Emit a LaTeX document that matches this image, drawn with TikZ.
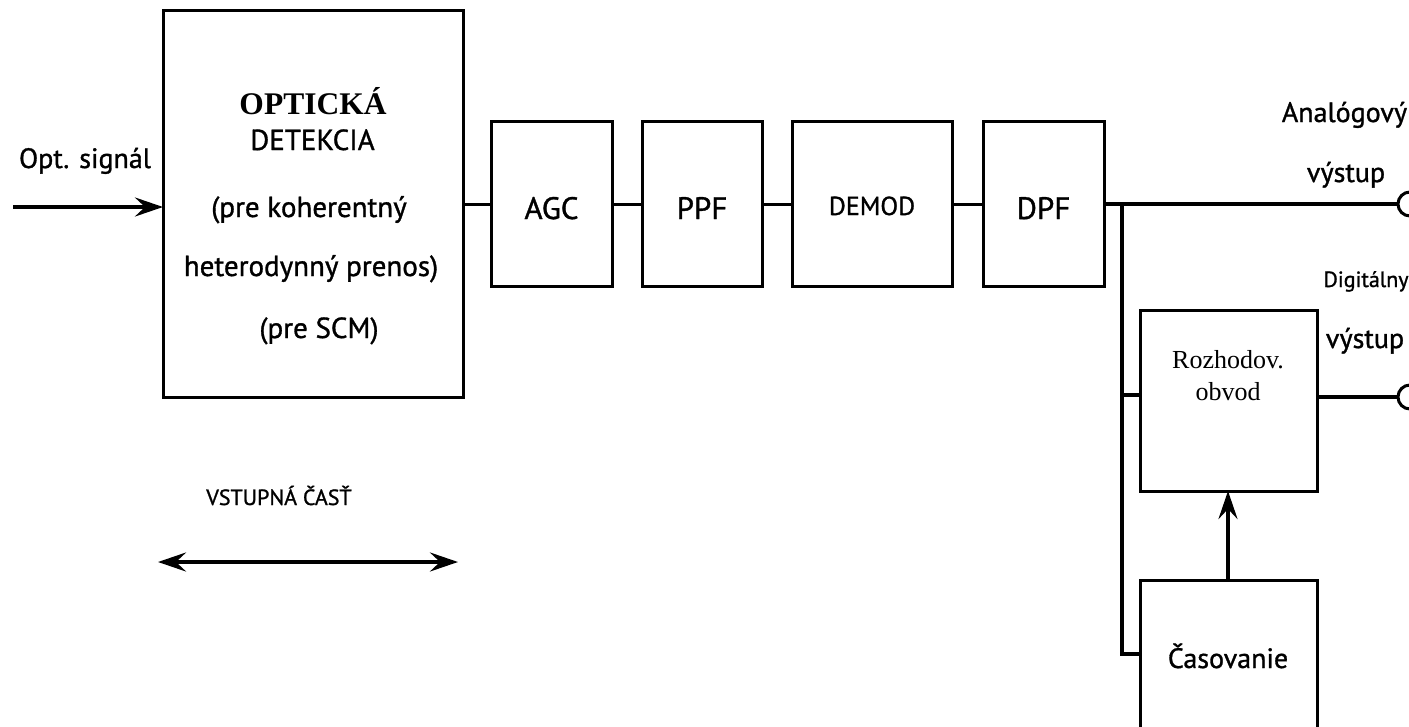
\documentclass[tikz,border=0pt]{standalone}
\usepackage{fontspec}
\setmainfont{PT Sans}[FakeBold=1.1]
\newfontfamily\seriffam{Liberation Serif}
\usetikzlibrary{arrows.meta}
\begin{document}
\begin{tikzpicture}[x=1pt,y=-1pt,
  blk/.style={draw, line width=3pt, inner sep=0pt, outer sep=0pt},
  txt/.style={inner sep=0pt, outer sep=0pt, anchor=base},
  fs/.style={font=\fontsize{#1}{#1}\selectfont},
  wire/.style={line width=3pt},
  awire/.style={line width=3.6pt},
  owire/.style={line width=4pt},
  tip/.style={-{Stealth[length=28pt,width=19pt,inset=10pt]}},
  port/.style={circle, draw, line width=3pt, minimum size=24pt, inner sep=0pt, outer sep=0pt},
]
\useasboundingbox (0,0) rectangle (1409,726);

% blocks
\node[blk, minimum width=300pt, minimum height=387pt] (big) at (313,203.5) {};
\node[blk, minimum width=121pt, minimum height=165pt] (agc) at (551.5,204) {};
\node[blk, minimum width=120pt, minimum height=165pt] (ppf) at (702,204) {};
\node[blk, minimum width=160pt, minimum height=165pt] (demod) at (872,204) {};
\node[blk, minimum width=121pt, minimum height=165pt] (dpf) at (1043.5,204) {};
\node[blk, minimum width=177pt, minimum height=181pt] (rozh) at (1228.5,400.5) {};

% block texts
\node[txt, font=\seriffam\bfseries\fontsize{31.5}{32}\selectfont] (t1) at (313,114) {OPTICKÁ};
\node[txt, fs=29] (t2) at (312.5,150) {DETEKCIA};
\node[txt, fs=29] (t3) at (309,217) {(pre koherentný};
\node[txt, fs=29] (t4) at (311,276) {heterodynný prenos)};
\node[txt, fs=29] (t5) at (319,338) {(pre SCM)};
\node[txt, fs=31] (tagc) at (551.5,219) {AGC};
\node[txt, fs=31] (tppf) at (702,219) {PPF};
\node[txt, fs=26] (tdemod) at (872,215) {DEMOD};
\node[txt, fs=31] (tdpf) at (1043.5,219) {DPF};
\node[txt, font=\seriffam\fontsize{26}{30}\selectfont] (trozh1) at (1228,368) {Rozhodov.};
\node[txt, font=\seriffam\fontsize{26}{30}\selectfont] (trozh2) at (1228,400) {obvod};
\node[txt, fs=28] (tcas) at (1228,668) {Časovanie};

% labels
\node[txt, fs=28] (lopt) at (85,168) {Opt. signál};
\node[txt, fs=28] (lan1) at (1344.5,122) {Analógový};
\node[txt, fs=28] (lan2) at (1346,182) {výstup};
\node[txt, fs=22] (ldi1) at (1366,287) {Digitálny};
\node[txt, fs=28] (ldi2) at (1365,348) {výstup};
\node[txt, fs=22] (lvst) at (279,505) {VSTUPNÁ ČASŤ};

% output ports
\node[port] (aout) at (1410,204) {};
\node[port] (dout) at (1410,397) {};

% coordinates
\coordinate (inL) at (13,207);
\coordinate (j1) at (1122,204);
\coordinate (jr) at (1122,395);
\coordinate (casL) at (1140,654);
\coordinate (castop) at (1228,580);
\coordinate (vL) at (158,562);
\coordinate (vR) at (458,562);

% Casovanie box (open at bottom)
\draw[line width=3pt] (1140,730) -- (1140,580) -- (1317,580) -- (1317,730);

% connectors
\draw[awire, tip] (inL) -- (inL -| big.west);
\draw[wire] (big.east |- agc.west) -- (agc.west);
\draw[wire] (agc.east) -- (ppf.west);
\draw[wire] (ppf.east) -- (demod.west);
\draw[wire] (demod.east) -- (dpf.west);
\draw[owire] (dpf.east) -- (aout.west);
\draw[owire] (j1) |- (casL);
\draw[owire] (jr) -- (jr -| rozh.west);
\draw[owire] (dout.west -| rozh.east) -- (dout.west);
\draw[awire, tip] (castop) -- (castop |- rozh.south);
\draw[awire, {Stealth[length=28pt,width=19pt,inset=10pt]}-{Stealth[length=28pt,width=19pt,inset=10pt]}] (vL) -- (vR);
\end{tikzpicture}
\end{document}
